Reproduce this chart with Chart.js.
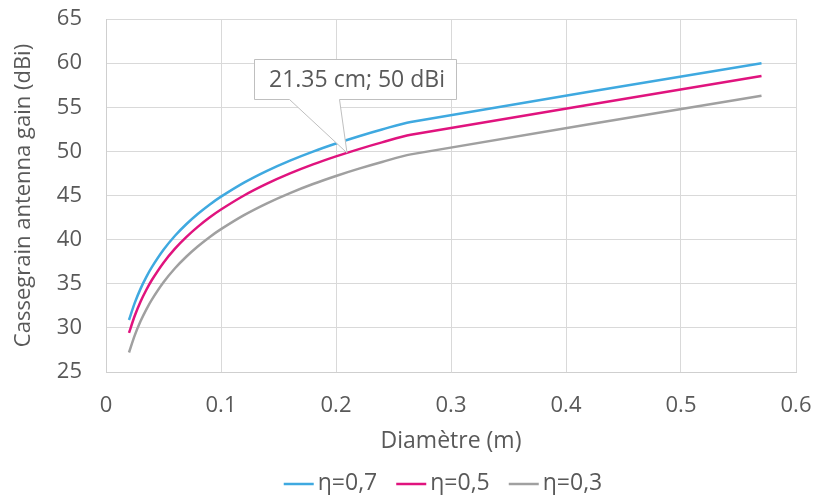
<!DOCTYPE html>
<html>
<head>
<meta charset="utf-8">
<script src="https://cdn.jsdelivr.net/npm/chart.js@4/dist/chart.umd.min.js"></script>
<style>
  html, body { margin: 0; padding: 0; background: #ffffff; }
  #wrap { width: 815px; height: 495px; position: relative; }
</style>
</head>
<body>
<div id="wrap"><canvas id="c" width="815" height="495"></canvas></div>
<script>
// Diameter (m)
const diameters = [0.02, 0.025, 0.03, 0.035, 0.04, 0.05, 0.06, 0.07, 0.08, 0.09, 0.10, 0.12, 0.14, 0.16, 0.18, 0.20, 0.22, 0.24, 0.265, 0.57];
// Gain (dBi) for each efficiency
const gainEta07 = [30.89, 32.83, 34.42, 35.75, 36.91, 38.85, 40.44, 41.77, 42.93, 43.96, 44.87, 46.46, 47.80, 48.96, 49.98, 50.89, 51.72, 52.48, 53.34, 59.99];
const gainEta05 = [29.43, 31.37, 32.96, 34.29, 35.45, 37.39, 38.98, 40.31, 41.47, 42.50, 43.41, 45.00, 46.34, 47.50, 48.52, 49.43, 50.26, 51.02, 51.88, 58.53];
const gainEta03 = [27.21, 29.15, 30.74, 32.07, 33.23, 35.17, 36.76, 38.09, 39.25, 40.28, 41.19, 42.78, 44.12, 45.28, 46.30, 47.21, 48.04, 48.80, 49.66, 56.31];
const seriesNames = ['η=0,7', 'η=0,5', 'η=0,3'];
const xTickLabels = ['0', '0.1', '0.2', '0.3', '0.4', '0.5', '0.6'];
const yTickLabels = ['25', '30', '35', '40', '45', '50', '55', '60', '65'];
// Callout point
const calloutPoint = { x: 0.2135, y: 50 };
const calloutText = '21.35 cm; 50 dBi';

const colors = ['#3fa9e0', '#e0137e', '#a0a0a0'];
const FONT = "'Open Sans', sans-serif";
const TXT = '#595959';

function pts(ys) { return diameters.map((d, i) => ({ x: d, y: ys[i] })); }

const calloutPlugin = {
  id: 'callout',
  afterDatasetsDraw(chart) {
    const { ctx, scales } = chart;
    const tx = scales.x.getPixelForValue(calloutPoint.x);
    const ty = scales.y.getPixelForValue(calloutPoint.y);
    const bx = Math.round(tx - 98), by = Math.round(ty - 92), bw = 202, bh = 40;
    const p1 = bx + 35, p2 = bx + 85;
    ctx.save();
    ctx.beginPath();
    ctx.moveTo(bx + 0.5, by + 0.5);
    ctx.lineTo(bx + bw + 0.5, by + 0.5);
    ctx.lineTo(bx + bw + 0.5, by + bh + 0.5);
    ctx.lineTo(p2 + 0.5, by + bh + 0.5);
    ctx.lineTo(tx - 4.5, ty + 1.5);
    ctx.lineTo(p1 + 0.5, by + bh + 0.5);
    ctx.lineTo(bx + 0.5, by + bh + 0.5);
    ctx.closePath();
    ctx.fillStyle = '#ffffff';
    ctx.fill();
    ctx.strokeStyle = '#bfbfbf';
    ctx.lineWidth = 1;
    ctx.stroke();
    ctx.fillStyle = TXT;
    ctx.font = "23px " + FONT;
    ctx.textAlign = 'center';
    ctx.textBaseline = 'middle';
    ctx.fillText(calloutText, bx + bw / 2 + 2, by + bh / 2 + 1);
    ctx.restore();
  }
};

const legendPlugin = {
  id: 'customLegend',
  afterDraw(chart) {
    const { ctx } = chart;
    ctx.save();
    ctx.font = "23px " + FONT;
    const lineW = 30, gapText = 4, gapItem = 19;
    const items = chart.data.datasets.map(ds => ({ label: ds.label, color: ds.borderColor, w: ctx.measureText(ds.label).width }));
    const total = items.reduce((s, it) => s + lineW + gapText + it.w, 0) + gapItem * (items.length - 1);
    let x = 443 - total / 2;
    const y = 484;
    items.forEach(it => {
      ctx.strokeStyle = it.color;
      ctx.lineWidth = 2.5;
      ctx.beginPath();
      ctx.moveTo(x, y);
      ctx.lineTo(x + lineW, y);
      ctx.stroke();
      ctx.fillStyle = TXT;
      ctx.textAlign = 'left';
      ctx.textBaseline = 'middle';
      ctx.fillText(it.label, x + lineW + gapText, y - 1);
      x += lineW + gapText + it.w + gapItem;
    });
    ctx.restore();
  }
};

new Chart(document.getElementById('c'), {
  type: 'scatter',
  data: {
    datasets: [gainEta07, gainEta05, gainEta03].map((g, i) => ({
      label: seriesNames[i],
      data: pts(g),
      showLine: true,
      borderColor: colors[i],
      backgroundColor: colors[i],
      borderWidth: 2.5,
      pointRadius: 0,
      pointHoverRadius: 0,
      tension: 0.3,
      fill: false
    }))
  },
  options: {
    responsive: false,
    animation: false,
    devicePixelRatio: 1,
    layout: { padding: { left: 0, right: 19, top: 19, bottom: 40 } },
    plugins: {
      legend: { display: false },
      tooltip: { enabled: false }
    },
    scales: {
      x: {
        type: 'linear',
        min: 0, max: 0.6,
        afterFit: (s) => { s.height = 83; s.paddingLeft = 0; s.paddingRight = 0; },
        ticks: {
          stepSize: 0.1,
          color: TXT,
          font: { family: FONT, size: 22 },
          padding: 21,
          callback: (v, i) => xTickLabels[i]
        },
        grid: { color: '#d9d9d9', lineWidth: 1, drawTicks: false },
        border: { color: '#cfcfcf' },
        title: { display: true, text: 'Diamètre (m)', color: TXT, font: { family: FONT, size: 23 }, padding: { top: 0, bottom: 0 } }
      },
      y: {
        min: 25, max: 65,
        afterFit: (s) => { s.width = 106; s.paddingTop = 0; s.paddingBottom = 0; },
        ticks: {
          stepSize: 5,
          color: TXT,
          font: { family: FONT, size: 22 },
          padding: 24,
          callback: (v, i) => yTickLabels[i]
        },
        grid: { color: '#d9d9d9', lineWidth: 1, drawTicks: false },
        border: { color: '#cfcfcf' },
        title: { display: true, text: 'Cassegrain antenna gain (dBi)', color: TXT, font: { family: FONT, size: 22 }, padding: { top: 11, bottom: 0 } }
      }
    }
  },
  plugins: [calloutPlugin, legendPlugin]
});
</script>
</body>
</html>
